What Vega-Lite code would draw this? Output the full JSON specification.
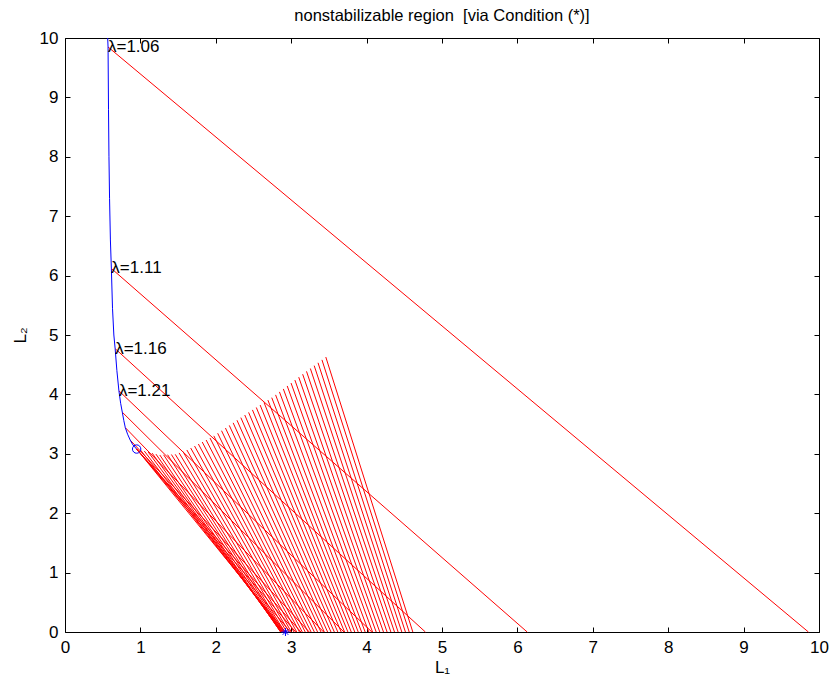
{
  "$schema": "https://vega.github.io/schema/vega-lite/v6.json",
  "width": 754,
  "height": 594,
  "autosize": "none",
  "padding": {"left": 65, "top": 38, "right": 10, "bottom": 45},
  "background": "white",
  "config": {
    "view": {"stroke": null},
    "font": "Liberation Sans",
    "axis": {
      "grid": false,
      "domainColor": "black",
      "domainWidth": 1,
      "tickColor": "black",
      "tickWidth": 1,
      "tickSize": -5,
      "labelColor": "black",
      "labelFont": "Liberation Sans",
      "labelFontSize": 17,
      "labelFlush": false,
      "labelOverlap": false,
      "titleFont": "Liberation Sans",
      "titleFontSize": 17,
      "titleFontWeight": "normal",
      "titleColor": "black"
    }
  },
  "title": {
    "text": "nonstabilizable region\u00a0 [via Condition (*)]",
    "font": "Liberation Sans",
    "fontSize": 16.5,
    "fontWeight": "normal",
    "color": "black",
    "anchor": "middle",
    "offset": 5
  },
  "datasets": {
    "segments": [
      {"lam": 1.06, "x": 0.57, "y": 9.85, "x2": 9.86, "y2": 0},
      {"lam": 1.11, "x": 0.615, "y": 6.12, "x2": 6.13, "y2": 0},
      {"lam": 1.16, "x": 0.665, "y": 4.77, "x2": 4.78, "y2": 0},
      {"lam": 1.21, "x": 0.715, "y": 4.06, "x2": 4.07, "y2": 0},
      {"lam": 1.26, "x": 0.76, "y": 3.70, "x2": 3.70, "y2": 0},
      {"lam": 1.31, "x": 0.80, "y": 3.44, "x2": 3.43, "y2": 0},
      {"lam": 1.36, "x": 0.865, "y": 3.23, "x2": 3.24, "y2": 0},
      {"lam": 1.41, "x": 0.95, "y": 3.08, "x2": 3.13, "y2": 0},
      {"lam": 1.46, "x": 0.95, "y": 3.08, "x2": 3.06, "y2": 0},
      {"lam": 1.51, "x": 0.95, "y": 3.08, "x2": 2.99, "y2": 0},
      {"lam": 1.56, "x": 0.95, "y": 3.08, "x2": 2.924, "y2": 0},
      {"lam": 1.61, "x": 1.001, "y": 3.063, "x2": 2.903, "y2": 0},
      {"lam": 1.66, "x": 1.052, "y": 3.046, "x2": 2.887, "y2": 0},
      {"lam": 1.71, "x": 1.104, "y": 3.029, "x2": 2.875, "y2": 0},
      {"lam": 1.76, "x": 1.155, "y": 3.012, "x2": 2.866, "y2": 0},
      {"lam": 1.81, "x": 1.206, "y": 2.995, "x2": 2.861, "y2": 0},
      {"lam": 1.86, "x": 1.257, "y": 2.980, "x2": 2.859, "y2": 0},
      {"lam": 1.91, "x": 1.308, "y": 2.983, "x2": 2.870, "y2": 0},
      {"lam": 1.96, "x": 1.360, "y": 2.985, "x2": 2.883, "y2": 0},
      {"lam": 2.01, "x": 1.411, "y": 2.988, "x2": 2.898, "y2": 0},
      {"lam": 2.06, "x": 1.462, "y": 2.991, "x2": 2.914, "y2": 0},
      {"lam": 2.11, "x": 1.513, "y": 3.015, "x2": 2.942, "y2": 0},
      {"lam": 2.16, "x": 1.564, "y": 3.038, "x2": 2.971, "y2": 0},
      {"lam": 2.21, "x": 1.616, "y": 3.064, "x2": 3.002, "y2": 0},
      {"lam": 2.26, "x": 1.667, "y": 3.097, "x2": 3.037, "y2": 0},
      {"lam": 2.31, "x": 1.718, "y": 3.131, "x2": 3.073, "y2": 0},
      {"lam": 2.36, "x": 1.769, "y": 3.165, "x2": 3.110, "y2": 0},
      {"lam": 2.41, "x": 1.820, "y": 3.198, "x2": 3.147, "y2": 0},
      {"lam": 2.46, "x": 1.872, "y": 3.232, "x2": 3.186, "y2": 0},
      {"lam": 2.51, "x": 1.923, "y": 3.266, "x2": 3.224, "y2": 0},
      {"lam": 2.56, "x": 1.974, "y": 3.302, "x2": 3.264, "y2": 0},
      {"lam": 2.61, "x": 2.025, "y": 3.346, "x2": 3.307, "y2": 0},
      {"lam": 2.66, "x": 2.076, "y": 3.389, "x2": 3.350, "y2": 0},
      {"lam": 2.71, "x": 2.128, "y": 3.434, "x2": 3.395, "y2": 0},
      {"lam": 2.76, "x": 2.179, "y": 3.478, "x2": 3.439, "y2": 0},
      {"lam": 2.81, "x": 2.230, "y": 3.521, "x2": 3.483, "y2": 0},
      {"lam": 2.86, "x": 2.281, "y": 3.565, "x2": 3.528, "y2": 0},
      {"lam": 2.91, "x": 2.332, "y": 3.609, "x2": 3.572, "y2": 0},
      {"lam": 2.96, "x": 2.384, "y": 3.653, "x2": 3.618, "y2": 0},
      {"lam": 3.01, "x": 2.435, "y": 3.697, "x2": 3.663, "y2": 0},
      {"lam": 3.06, "x": 2.486, "y": 3.739, "x2": 3.708, "y2": 0},
      {"lam": 3.11, "x": 2.537, "y": 3.780, "x2": 3.752, "y2": 0},
      {"lam": 3.16, "x": 2.588, "y": 3.821, "x2": 3.797, "y2": 0},
      {"lam": 3.21, "x": 2.640, "y": 3.863, "x2": 3.843, "y2": 0},
      {"lam": 3.26, "x": 2.691, "y": 3.904, "x2": 3.889, "y2": 0},
      {"lam": 3.31, "x": 2.742, "y": 3.945, "x2": 3.934, "y2": 0},
      {"lam": 3.36, "x": 2.793, "y": 3.992, "x2": 3.981, "y2": 0},
      {"lam": 3.41, "x": 2.844, "y": 4.042, "x2": 4.029, "y2": 0},
      {"lam": 3.46, "x": 2.896, "y": 4.092, "x2": 4.079, "y2": 0},
      {"lam": 3.51, "x": 2.947, "y": 4.142, "x2": 4.127, "y2": 0},
      {"lam": 3.56, "x": 2.998, "y": 4.191, "x2": 4.175, "y2": 0},
      {"lam": 3.61, "x": 3.049, "y": 4.241, "x2": 4.224, "y2": 0},
      {"lam": 3.66, "x": 3.100, "y": 4.290, "x2": 4.272, "y2": 0},
      {"lam": 3.71, "x": 3.152, "y": 4.340, "x2": 4.322, "y2": 0},
      {"lam": 3.76, "x": 3.203, "y": 4.388, "x2": 4.370, "y2": 0},
      {"lam": 3.81, "x": 3.254, "y": 4.436, "x2": 4.418, "y2": 0},
      {"lam": 3.86, "x": 3.305, "y": 4.484, "x2": 4.467, "y2": 0},
      {"lam": 3.91, "x": 3.356, "y": 4.532, "x2": 4.515, "y2": 0},
      {"lam": 3.96, "x": 3.408, "y": 4.581, "x2": 4.565, "y2": 0},
      {"lam": 4.01, "x": 3.459, "y": 4.629, "x2": 4.613, "y2": 0}
    ],
    "curve": [
      {"x": 0.566, "y": 10.0}, {"x": 0.571, "y": 9.85}, {"x": 0.577, "y": 8.8},
      {"x": 0.583, "y": 8.0}, {"x": 0.591, "y": 7.3}, {"x": 0.602, "y": 6.6},
      {"x": 0.615, "y": 6.12}, {"x": 0.630, "y": 5.45}, {"x": 0.648, "y": 5.0},
      {"x": 0.665, "y": 4.77}, {"x": 0.688, "y": 4.4}, {"x": 0.715, "y": 4.06},
      {"x": 0.738, "y": 3.85}, {"x": 0.76, "y": 3.70}, {"x": 0.78, "y": 3.56},
      {"x": 0.80, "y": 3.44}, {"x": 0.83, "y": 3.33}, {"x": 0.865, "y": 3.23},
      {"x": 0.90, "y": 3.15}, {"x": 0.95, "y": 3.08}
    ],
    "labels": [
      {"text": "λ=1.06", "x": 0.57, "y": 9.85},
      {"text": "λ=1.11", "x": 0.615, "y": 6.12},
      {"text": "λ=1.16", "x": 0.665, "y": 4.77},
      {"text": "λ=1.21", "x": 0.715, "y": 4.06}
    ],
    "circle": [{"x": 0.95, "y": 3.08}],
    "star": [{"x": 2.924, "y": 0}]
  },
  "layer": [
    {
      "data": {"name": "segments"},
      "mark": {"type": "rule", "color": "#ff0000", "strokeWidth": 1},
      "encoding": {
        "x": {"field": "x", "type": "quantitative",
              "scale": {"domain": [0, 10], "nice": false, "zero": false},
              "axis": {"orient": "bottom", "values": [0,1,2,3,4,5,6,7,8,9,10], "format": "d",
                       "labelPadding": 12, "title": "L₁", "titlePadding": 4}},
        "y": {"field": "y", "type": "quantitative",
              "scale": {"domain": [0, 10], "nice": false, "zero": false},
              "axis": {"orient": "left", "values": [0,1,2,3,4,5,6,7,8,9,10], "format": "d",
                       "labelPadding": 12, "title": "L₂", "titlePadding": 10}},
        "x2": {"field": "x2"},
        "y2": {"field": "y2"}
      }
    },
    {
      "data": {"name": "curve"},
      "mark": {"type": "line", "color": "#0000ff", "strokeWidth": 1},
      "encoding": {
        "x": {"field": "x", "type": "quantitative",
              "axis": {"orient": "top", "values": [0,1,2,3,4,5,6,7,8,9,10], "labels": false, "title": null}},
        "y": {"field": "y", "type": "quantitative",
              "axis": {"orient": "right", "values": [0,1,2,3,4,5,6,7,8,9,10], "labels": false, "title": null}}
      }
    },
    {
      "data": {"name": "labels"},
      "mark": {"type": "text", "align": "left", "baseline": "middle", "fontSize": 17, "font": "Liberation Sans", "color": "black"},
      "encoding": {
        "x": {"field": "x", "type": "quantitative", "axis": null},
        "y": {"field": "y", "type": "quantitative", "axis": null},
        "text": {"field": "text"}
      }
    },
    {
      "data": {"name": "circle"},
      "mark": {"type": "point", "shape": "circle", "size": 70, "filled": false, "stroke": "#0000ff", "strokeWidth": 1, "opacity": 1},
      "encoding": {
        "x": {"field": "x", "type": "quantitative", "axis": null},
        "y": {"field": "y", "type": "quantitative", "axis": null}
      }
    },
    {
      "data": {"name": "star"},
      "mark": {"type": "point", "shape": "M-1,0L1,0M0,-1L0,1M-0.7,-0.7L0.7,0.7M-0.7,0.7L0.7,-0.7", "size": 64, "filled": false, "stroke": "#0000ff", "strokeWidth": 1, "opacity": 1},
      "encoding": {
        "x": {"field": "x", "type": "quantitative", "axis": null},
        "y": {"field": "y", "type": "quantitative", "axis": null}
      }
    }
  ],
  "resolve": {"axis": {"x": "independent", "y": "independent"}}
}
